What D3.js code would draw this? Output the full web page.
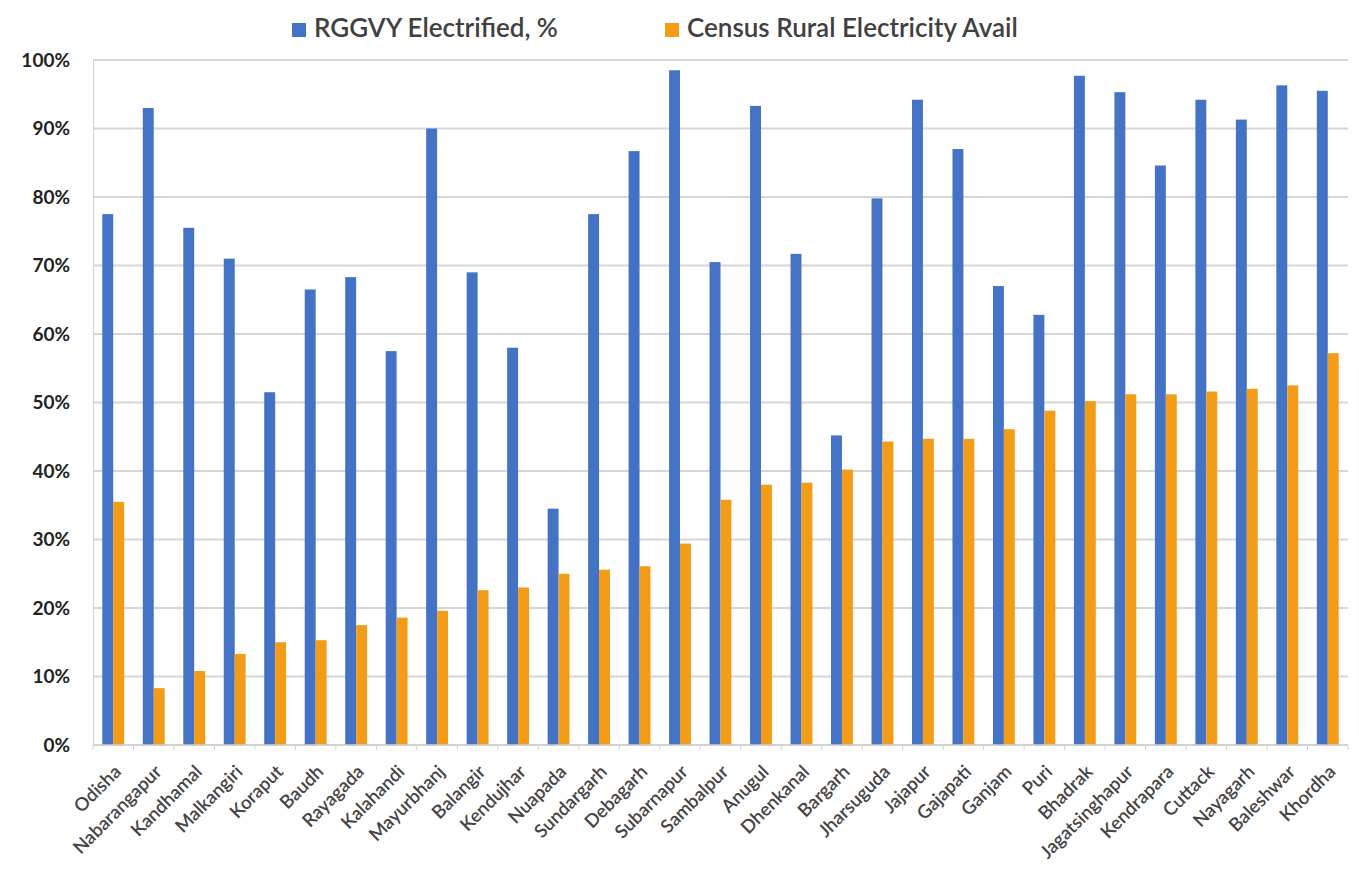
<!DOCTYPE html>
<html>
<head>
<meta charset="utf-8">
<script src="https://cdn.jsdelivr.net/npm/d3@7"></script>
<style>
  body { margin: 0; background: #fff; }
  text { font-family: Lato, "Open Sans", sans-serif; }
</style>
</head>
<body>
<div class="chart"></div>
<script>
let districts = ["Odisha", "Nabarangapur", "Kandhamal", "Malkangiri", "Koraput", "Baudh", "Rayagada",
  "Kalahandi", "Mayurbhanj", "Balangir", "Kendujhar", "Nuapada", "Sundargarh", "Debagarh", "Subarnapur",
  "Sambalpur", "Anugul", "Dhenkanal", "Bargarh", "Jharsuguda", "Jajapur", "Gajapati", "Ganjam", "Puri",
  "Bhadrak", "Jagatsinghapur", "Kendrapara", "Cuttack", "Nayagarh", "Baleshwar", "Khordha"]
let rggvy = [77.5, 93, 75.5, 71, 51.5, 66.5, 68.3, 57.5, 90, 69, 58, 34.5, 77.5, 86.7, 98.5,
  70.5, 93.3, 71.7, 45.2, 79.8, 94.2, 87, 67, 62.8, 97.7, 95.3, 84.6, 94.2, 91.3, 96.3, 95.5]
let census = [35.5, 8.3, 10.8, 13.3, 15, 15.3, 17.5, 18.6, 19.6, 22.6, 23, 25, 25.6, 26.1, 29.4,
  35.8, 38, 38.3, 40.2, 44.3, 44.7, 44.7, 46.1, 48.8, 50.2, 51.2, 51.2, 51.6, 52, 52.5, 57.2]
let seriesNames = ["RGGVY Electrified, %", "Census Rural Electricity Avail"]
let yTicks = [0, 10, 20, 30, 40, 50, 60, 70, 80, 90, 100]

let width = 1359, height = 873
let margin = { top: 60, right: 10, bottom: 128, left: 93 }
let colors = ["#4472c4", "#f39c18"]

let svg = d3.select(".chart")
  .append("svg")
  .attr("width", width)
  .attr("height", height)

let x = d3.scaleBand()
  .domain(districts)
  .range([margin.left, width - margin.right - 1])
  .paddingInner(0.46)
  .paddingOuter(0.23)

let xInner = d3.scaleBand()
  .domain([0, 1])
  .range([0, x.bandwidth()])

let y = d3.scaleLinear()
  .domain([0, 100])
  .range([height - margin.bottom, margin.top])

// grid
svg.append("g")
  .selectAll("line")
  .data(yTicks)
  .enter()
  .append("line")
  .attr("x1", margin.left)
  .attr("x2", width - margin.right - 1)
  .attr("y1", d => y(d))
  .attr("y2", d => y(d))
  .attr("stroke", "#d6d6d6")
  .attr("stroke-width", 1.8)

// y axis
let yAxis = svg.append("g")
  .attr("transform", `translate(${margin.left},0)`)
  .call(d3.axisLeft(y).tickValues(yTicks).tickFormat(d => d + "%").tickSize(0).tickPadding(23))
yAxis.select(".domain").attr("stroke", "#d0d0d0")
yAxis.selectAll("text")
  .attr("font-size", 19)
  .attr("font-weight", "bold")
  .attr("fill", "#222")

// bars
let rows = districts.map((d, i) => ({ name: d, values: [rggvy[i], census[i]] }))

let group = svg.append("g")
  .selectAll("g")
  .data(rows)
  .enter()
  .append("g")
  .attr("transform", d => `translate(${x(d.name)},0)`)

group.selectAll("rect")
  .data(d => d.values)
  .enter()
  .append("rect")
  .attr("x", (d, i) => xInner(i))
  .attr("width", xInner.bandwidth())
  .attr("y", d => y(d))
  .attr("height", d => y(0) - y(d))
  .attr("fill", (d, i) => colors[i])

// x axis
let step = x.step()
let xAxis = svg.append("g")
  .attr("transform", `translate(0,${y(0)})`)
xAxis.append("line")
  .attr("x1", margin.left)
  .attr("x2", width - margin.right - 1)
  .attr("stroke", "#d0d0d0")
  .attr("stroke-width", 1.5)
xAxis.selectAll(".tick")
  .data(d3.range(districts.length + 1))
  .enter()
  .append("line")
  .attr("x1", i => margin.left + i * step)
  .attr("x2", i => margin.left + i * step)
  .attr("y1", 0)
  .attr("y2", 5)
  .attr("stroke", "#d0d0d0")

xAxis.selectAll("text")
  .data(districts)
  .enter()
  .append("text")
  .attr("transform", d => `translate(${x(d) + x.bandwidth() / 2 + 9},28) rotate(-45)`)
  .attr("text-anchor", "end")
  .attr("font-size", 18.5)
  .attr("font-weight", 600)
  .attr("fill", "#444")
  .text(d => d)

// legend
let legend = svg.append("g")
  .selectAll("g")
  .data(seriesNames)
  .enter()
  .append("g")
  .attr("transform", (d, i) => `translate(${[292, 665][i]},23)`)

legend.append("rect")
  .attr("width", 14)
  .attr("height", 14)
  .attr("fill", (d, i) => colors[i])

legend.append("text")
  .attr("x", 22)
  .attr("y", 14)
  .attr("font-size", 26)
  .attr("font-weight", 600)
  .attr("fill", "#404040")
  .text(d => d)
</script>
</body>
</html>
